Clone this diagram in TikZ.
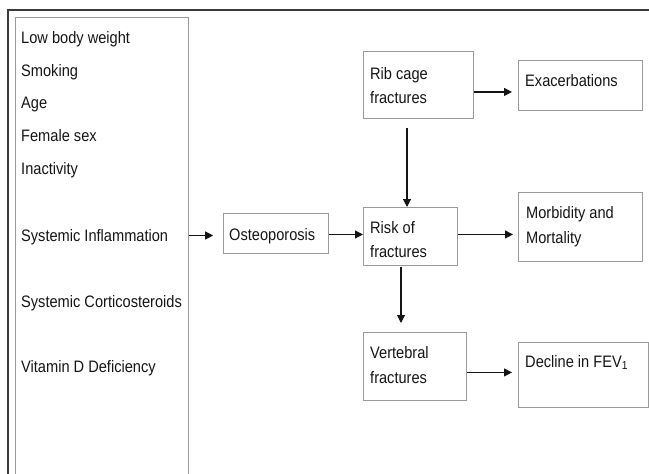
\documentclass[tikz,border=0pt]{standalone}
\usepackage{fontspec}
\setmainfont{Liberation Sans}[FakeStretch=0.88]
\usetikzlibrary{arrows.meta}
\definecolor{boxgray}{HTML}{9A9A9A}
\definecolor{framegray}{HTML}{3A3A3A}
\definecolor{inkc}{HTML}{151515}
\tikzset{
  boxnode/.style={draw=boxgray, line width=0.9pt, rectangle, inner sep=0pt, anchor=north west},
  txt/.style={inner sep=0pt, anchor=base west, text=inkc, font=\fontsize{16.6}{20}\selectfont},
  arr/.style={draw=inkc, line width=1.1pt, -{Triangle[length=8pt,width=8pt]}},
}
\begin{document}
\begin{tikzpicture}[x=1pt,y=-1pt]
\useasboundingbox (0,0) rectangle (649,474);
% outer frame
\draw[framegray, line width=1.8pt] (8,476) -- (8,10) -- (651,10);
% boxes
\node[boxnode, minimum width=173pt, minimum height=462pt] (factors) at (15,17) {};
\node[boxnode, minimum width=105pt, minimum height=39.5pt] (osteo) at (222.7,213.3) {};
\node[boxnode, minimum width=110pt, minimum height=67pt] (rib) at (363,51) {};
\node[boxnode, minimum width=94pt, minimum height=58pt] (risk) at (363,207) {};
\node[boxnode, minimum width=124pt, minimum height=50pt] (exac) at (518,60) {};
\node[boxnode, minimum width=124pt, minimum height=69pt] (morb) at (518,192) {};
\node[boxnode, minimum width=103pt, minimum height=68pt] (vert) at (363,332) {};
\node[boxnode, minimum width=130pt, minimum height=65pt] (decl) at (518,342) {};
% left list
\node[txt] (t1) at (21,43) {Low body weight};
\node[txt] (t2) at (21,76) {Smoking};
\node[txt] (t3) at (21,108.5) {Age};
\node[txt] (t4) at (21,141.5) {Female sex};
\node[txt] (t5) at (21,174) {Inactivity};
\node[txt] (t6) at (21,241) {Systemic Inflammation};
\node[txt] (t7) at (21,307) {Systemic Corticosteroids};
\node[txt] (t8) at (21,372) {Vitamin D Deficiency};
% box texts
\node[txt] (osteot) at (229,240) {Osteoporosis};
\node[txt] (ribt1) at (370,79) {Rib cage};
\node[txt] (ribt2) at (370,103) {fractures};
\node[txt] (riskt1) at (370,233) {Risk of};
\node[txt] (riskt2) at (370,257) {fractures};
\node[txt] (exact) at (525,86) {Exacerbations};
\node[txt] (morbt1) at (526,218) {Morbidity and};
\node[txt] (morbt2) at (526,243) {Mortality};
\node[txt] (vertt1) at (370,358) {Vertebral};
\node[txt] (vertt2) at (370,383) {fractures};
\node[txt] (declt) at (525,367) {Decline in FEV\textsubscript{1}};
% connectors
\draw[arr, shorten >=9.5pt] ([yshift=-2pt]factors.east |- osteo.west) -- ([yshift=-2pt]osteo.west);
\draw[arr] ([yshift=-1pt]osteo.east) -- ([yshift=-1pt]osteo.east -| risk.west);
\draw[arr, shorten >=5pt] ([yshift=2pt]risk.east) -- ([yshift=2pt]risk.east -| morb.west);
\draw[arr, shorten >=6pt] ([yshift=-7pt]rib.east) -- ([yshift=-7pt]rib.east -| exac.west);
\draw[arr, shorten >=6pt] ([yshift=-6pt]vert.east) -- ([yshift=-6pt]vert.east -| decl.west);
\draw[arr, shorten <=9pt] ([xshift=44pt]rib.south west) -- ([xshift=44pt]risk.north west);
\draw[arr, shorten <=1pt, shorten >=9pt] ([xshift=38pt]risk.south west) -- ([xshift=38pt]vert.north west);
\end{tikzpicture}
\end{document}
